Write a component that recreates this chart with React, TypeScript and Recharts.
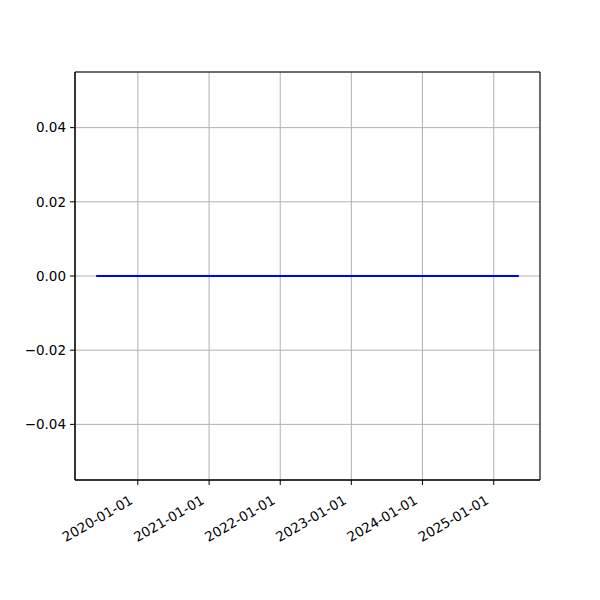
import { LineChart, Line, XAxis, YAxis, CartesianGrid, ReferenceArea } from "recharts";

const dates = [
  "2019-06-01",
  "2020-01-01",
  "2021-01-01",
  "2022-01-01",
  "2023-01-01",
  "2024-01-01",
  "2025-01-01",
  "2025-05-10",
];
const values = [0, 0, 0, 0, 0, 0, 0, 0];

const xTickLabels = [
  "2020-01-01",
  "2021-01-01",
  "2022-01-01",
  "2023-01-01",
  "2024-01-01",
  "2025-01-01",
];
const yTicks = [-0.04, -0.02, 0, 0.02, 0.04];

const rows = dates.map((d, i) => ({ t: Date.parse(d + "T00:00:00Z"), v: values[i] }));
const xTicks = xTickLabels.map((d) => Date.parse(d + "T00:00:00Z"));

const t0 = rows[0].t;
const t1 = rows[rows.length - 1].t;
const pad = (t1 - t0) * 0.05;
const xDomain = [t0 - pad, t1 + pad];
const yDomain = [-0.055, 0.055];

const font = "DejaVu Sans, sans-serif";

function DateTick(props: any) {
  const { x, y, payload } = props;
  const label = new Date(payload.value).toISOString().slice(0, 10);
  const ax = x - 4;
  const ay = y + 16;
  return (
    <text
      x={ax}
      y={ay}
      textAnchor="end"
      fontSize={13.5}
      fontFamily={font}
      fill="#000"
      transform={`rotate(-30, ${ax}, ${ay})`}
    >
      {label}
    </text>
  );
}

const fmtY = (v: number) => {
  const s = Math.abs(v).toFixed(2);
  return v < 0 ? "\u2212" + s : s;
};

export default function App() {
  return (
    <div style={{ position: "absolute", left: 0, top: 0, width: 600, height: 600, background: "#fff" }}>
      <LineChart
        width={600}
        height={600}
        data={rows}
        margin={{ top: 72, right: 60, left: 0, bottom: 0 }}
      >
        <CartesianGrid stroke="#b0b0b0" strokeWidth={1} />
        <XAxis
          dataKey="t"
          type="number"
          scale="time"
          domain={xDomain}
          ticks={xTicks}
          allowDataOverflow
          stroke="#000"
          tickSize={5}
          tickLine={{ stroke: "#000" }}
          height={120}
          tick={<DateTick />}
          interval={0}
        />
        <YAxis
          type="number"
          domain={yDomain}
          ticks={yTicks}
          allowDataOverflow
          width={75}
          stroke="#000"
          tickSize={5}
          tickMargin={4}
          tickFormatter={fmtY}
          tick={{ fill: "#000", fontSize: 13.5, fontFamily: font }}
          interval={0}
        />
        <Line
          dataKey="v"
          stroke="#0000ff"
          strokeWidth={2}
          dot={false}
          isAnimationActive={false}
        />
        <ReferenceArea
          x1={xDomain[0]}
          x2={xDomain[1]}
          y1={yDomain[0]}
          y2={yDomain[1]}
          fill="none"
          fillOpacity={0}
          stroke="#000"
          strokeWidth={1}
          ifOverflow="visible"
        />
      </LineChart>
    </div>
  );
}
